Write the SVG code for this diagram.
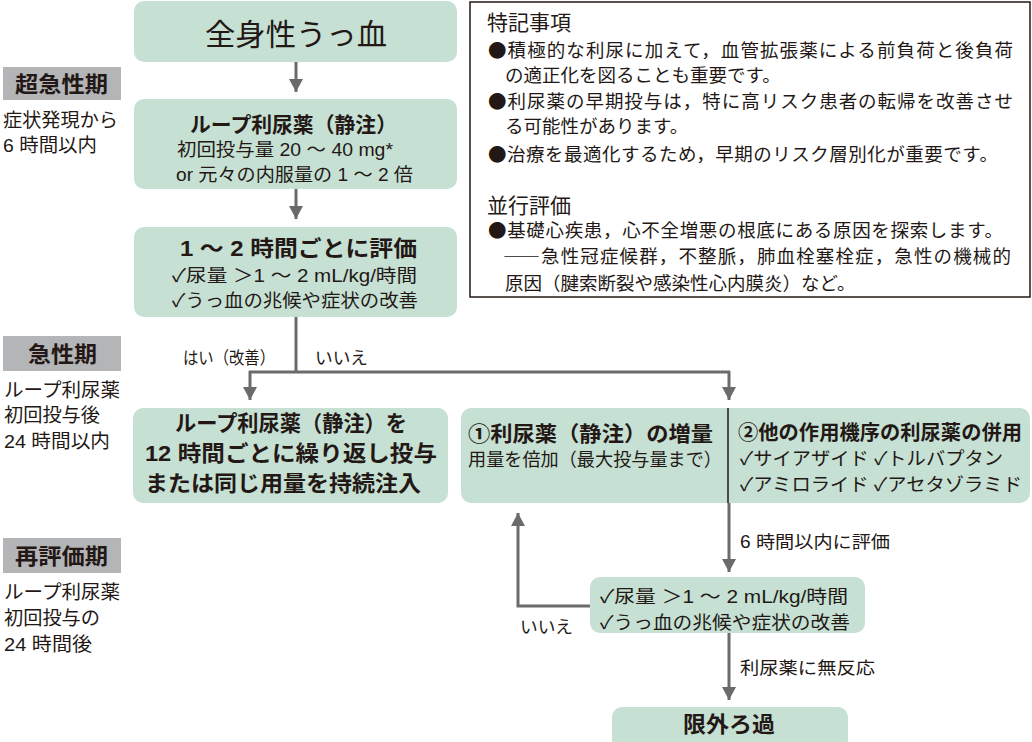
<svg xmlns="http://www.w3.org/2000/svg" width="1032" height="742" viewBox="0 0 1032 742">
<style>
text{font-family:"Liberation Sans","Noto Sans CJK JP",sans-serif;fill:#231815}
#notes text{font-family:"Noto Sans CJK JP",sans-serif}
.node{fill:#c6e0d3}
.t{font-weight:700}
.c{text-anchor:middle}
.phase{fill:#b4b5b7}
.ph{font-size:22px;font-weight:700}
.side{font-size:19px}
.body{font-size:17.5px}
.nb{font-size:18.5px}
.note{font-size:18.5px}
.conn{stroke:#6b6b6d;stroke-width:3;fill:none}
</style>
<defs>
<marker id="ah" markerUnits="userSpaceOnUse" markerWidth="16" markerHeight="14" refX="13" refY="7" orient="auto">
<path d="M0,0 L13,7 L0,14 Z" fill="#6b6b6d"/>
</marker>
</defs>
<rect width="1032" height="742" fill="#fff"/>

<g id="phase1">
<rect class="phase" x="3" y="67" width="118" height="33"/>
<text class="ph" x="15" y="92" textLength="93" lengthAdjust="spacingAndGlyphs">超急性期</text>
<text class="side" x="3" y="127" textLength="115" lengthAdjust="spacingAndGlyphs">症状発現から</text>
<text class="side" x="3" y="152" textLength="94" lengthAdjust="spacingAndGlyphs">6 時間以内</text>
</g>
<g id="phase2">
<rect class="phase" x="3" y="336" width="118" height="35"/>
<text class="ph" x="28" y="362" textLength="69" lengthAdjust="spacingAndGlyphs">急性期</text>
<text class="side" x="4" y="397" textLength="116" lengthAdjust="spacingAndGlyphs">ループ利尿薬</text>
<text class="side" x="4" y="422" textLength="96" lengthAdjust="spacingAndGlyphs">初回投与後</text>
<text class="side" x="4" y="448" textLength="106" lengthAdjust="spacingAndGlyphs">24 時間以内</text>
</g>
<g id="phase3">
<rect class="phase" x="3" y="538" width="118" height="35"/>
<text class="ph" x="15" y="564" textLength="93" lengthAdjust="spacingAndGlyphs">再評価期</text>
<text class="side" x="4" y="599" textLength="116" lengthAdjust="spacingAndGlyphs">ループ利尿薬</text>
<text class="side" x="4" y="625" textLength="96" lengthAdjust="spacingAndGlyphs">初回投与の</text>
<text class="side" x="4" y="651" textLength="88" lengthAdjust="spacingAndGlyphs">24 時間後</text>
</g>

<g id="connectors">
<line class="conn" x1="296" y1="62" x2="296" y2="92" marker-end="url(#ah)"/>
<line class="conn" x1="296" y1="189" x2="296" y2="219" marker-end="url(#ah)"/>
<polyline class="conn" points="296,317 296,372"/>
<polyline class="conn" points="249,372 730,372"/>
<line class="conn" x1="250" y1="371" x2="250" y2="400" marker-end="url(#ah)"/>
<line class="conn" x1="729" y1="371" x2="729" y2="400" marker-end="url(#ah)"/>
<line class="conn" x1="729" y1="503" x2="729" y2="572" marker-end="url(#ah)"/>
<polyline class="conn" points="590,606 518,606 518,513" marker-end="url(#ah)"/>
<line class="conn" x1="729" y1="633" x2="729" y2="700" marker-end="url(#ah)"/>
<text class="body" x="183" y="364" textLength="92" lengthAdjust="spacingAndGlyphs">はい（改善）</text>
<text class="body" x="315" y="364" textLength="53" lengthAdjust="spacingAndGlyphs">いいえ</text>
<text class="body" x="740" y="548" textLength="150" lengthAdjust="spacingAndGlyphs">6 時間以内に評価</text>
<text class="body" x="520" y="633" textLength="53" lengthAdjust="spacingAndGlyphs">いいえ</text>
<text class="body" x="740" y="674" textLength="135" lengthAdjust="spacingAndGlyphs">利尿薬に無反応</text>
</g>

<g id="n1">
<rect class="node" x="134" y="1" width="323" height="61" rx="10"/>
<text x="205" y="45" font-size="30" textLength="182" lengthAdjust="spacingAndGlyphs">全身性うっ血</text>
</g>
<g id="n2">
<rect class="node" x="134" y="99" width="323" height="90" rx="10"/>
<text class="t" x="190" y="132" font-size="21" textLength="207" lengthAdjust="spacingAndGlyphs">ループ利尿薬（静注）</text>
<text class="nb" x="177" y="156" textLength="216" lengthAdjust="spacingAndGlyphs">初回投与量 20 ～ 40 mg*</text>
<text class="nb" x="176" y="181" textLength="237" lengthAdjust="spacingAndGlyphs">or 元々の内服量の 1 ～ 2 倍</text>
</g>
<g id="n3">
<rect class="node" x="134" y="227" width="323" height="90" rx="10"/>
<text class="t" x="180" y="256" font-size="22" textLength="237" lengthAdjust="spacingAndGlyphs">1 ～ 2 時間ごとに評価</text>
<text class="nb" x="172" y="282" textLength="245" lengthAdjust="spacingAndGlyphs">✓尿量 ＞1 ～ 2 mL/kg/時間</text>
<text class="nb" x="172" y="307" textLength="246" lengthAdjust="spacingAndGlyphs">✓うっ血の兆候や症状の改善</text>
</g>
<g id="n4">
<rect class="node" x="133" y="408" width="315" height="95" rx="10"/>
<text class="c t" x="291" y="431" font-size="22" textLength="232" lengthAdjust="spacingAndGlyphs">ループ利尿薬（静注）を</text>
<text class="c t" x="291" y="461" font-size="22" textLength="292" lengthAdjust="spacingAndGlyphs">12 時間ごとに繰り返し投与</text>
<text class="c t" x="283" y="491" font-size="22" textLength="276" lengthAdjust="spacingAndGlyphs">または同じ用量を持続注入</text>
</g>
<g id="n5">
<rect class="node" x="461" y="408" width="569" height="95" rx="10"/>
<line x1="728" y1="408" x2="728" y2="503" stroke="#231815" stroke-width="1.5"/>
<text class="t" x="468" y="441" font-size="21" textLength="245" lengthAdjust="spacingAndGlyphs">①利尿薬（静注）の増量</text>
<text class="nb" x="468" y="466" textLength="254" lengthAdjust="spacingAndGlyphs">用量を倍加（最大投与量まで）</text>
<text class="t" x="738" y="440" font-size="20.5" textLength="284" lengthAdjust="spacingAndGlyphs">②他の作用機序の利尿薬の併用</text>
<text class="nb" x="740" y="465" textLength="263" lengthAdjust="spacingAndGlyphs">✓サイアザイド ✓トルバプタン</text>
<text class="nb" x="740" y="491" textLength="282" lengthAdjust="spacingAndGlyphs">✓アミロライド ✓アセタゾラミド</text>
</g>
<g id="n6">
<rect class="node" x="590" y="577" width="275" height="56" rx="10"/>
<text class="nb" x="600" y="603" textLength="248" lengthAdjust="spacingAndGlyphs">✓尿量 ＞1 ～ 2 mL/kg/時間</text>
<text class="nb" x="600" y="629" textLength="250" lengthAdjust="spacingAndGlyphs">✓うっ血の兆候や症状の改善</text>
</g>
<g id="n7">
<rect class="node" x="612" y="707" width="236" height="42" rx="10"/>
<text class="t" x="683" y="732" font-size="22" textLength="92" lengthAdjust="spacingAndGlyphs">限外ろ過</text>
</g>

<g id="notes">
<rect x="470" y="2" width="560" height="295" fill="none" stroke="#231815" stroke-width="1.5"/>
<text x="487" y="30" font-size="21">特記事項</text>
<text class="note" x="488" y="57" textLength="525" lengthAdjust="spacing">●積極的な利尿に加えて，血管拡張薬による前負荷と後負荷</text>
<text class="note" x="505" y="82">の適正化を図ることも重要です。</text>
<text class="note" x="488" y="108" textLength="525" lengthAdjust="spacing">●利尿薬の早期投与は，特に高リスク患者の転帰を改善させ</text>
<text class="note" x="505" y="133">る可能性があります。</text>
<text class="note" x="488" y="161" textLength="510" lengthAdjust="spacing">●治療を最適化するため，早期のリスク層別化が重要です。</text>
<text x="487" y="213" font-size="21">並行評価</text>
<text class="note" x="488" y="237" textLength="515" lengthAdjust="spacing">●基礎心疾患，心不全増悪の根底にある原因を探索します。</text>
<text class="note" x="503" y="263" textLength="508" lengthAdjust="spacing">――急性冠症候群，不整脈，肺血栓塞栓症，急性の機械的</text>
<text class="note" x="505" y="290">原因（腱索断裂や感染性心内膜炎）など。</text>
</g>
</svg>
